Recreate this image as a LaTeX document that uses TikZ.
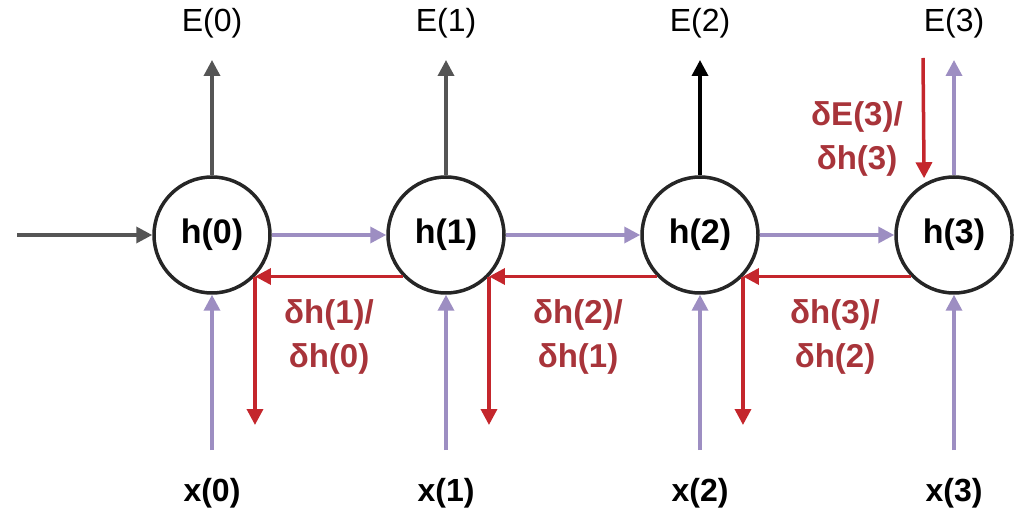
\documentclass[tikz,border=0pt]{standalone}
\usepackage{fontspec}
\setmainfont{Liberation Sans}
\usetikzlibrary{arrows.meta}
\definecolor{lilac}{HTML}{9D8EC2}
\definecolor{gradred}{HTML}{C4262C}
\definecolor{labelred}{HTML}{A8343A}
\definecolor{wiregray}{HTML}{555555}
\begin{document}
\begin{tikzpicture}[x=1pt,y=-1pt,
  state/.style={circle,draw=black!85,line width=3.5pt,minimum size=116pt,
    inner sep=0pt,font=\fontsize{34}{40}\selectfont\bfseries},
  wire/.style={line width=3.5pt,-{Triangle[length=16pt,width=16pt]}},
  fwd/.style={wire,draw=lilac},
  back/.style={wire,draw=gradred},
  outlbl/.style={font=\fontsize{32}{38}\selectfont},
  inlbl/.style={font=\fontsize{32}{38}\selectfont\bfseries},
  gradlbl/.style={text=labelred,align=center,
    font=\fontsize{33}{44}\selectfont\bfseries}]
  \useasboundingbox (0,0) rectangle (1017,510);

  % hidden states
  \node[state] (h0) at (212,235) {h(0)};
  \node[state] (h1) at (446,235) {h(1)};
  \node[state] (h2) at (700,235) {h(2)};
  \node[state] (h3) at (954,235) {h(3)};

  % outputs
  \node[outlbl] (e0) at (212,23) {E(0)};
  \node[outlbl] (e1) at (446,23) {E(1)};
  \node[outlbl] (e2) at (700,23) {E(2)};
  \node[outlbl] (e3) at (954,23) {E(3)};
  \coordinate (te0) at (212,60);
  \coordinate (te1) at (446,60);
  \coordinate (te2) at (700,60);
  \coordinate (te3) at (954,60);

  % inputs
  \node[inlbl] (x0) at (212,493) {x(0)};
  \node[inlbl] (x1) at (446,493) {x(1)};
  \node[inlbl] (x2) at (700,493) {x(2)};
  \node[inlbl] (x3) at (954,493) {x(3)};
  \coordinate (sx0) at (212,450);
  \coordinate (sx1) at (446,450);
  \coordinate (sx2) at (700,450);
  \coordinate (sx3) at (954,450);

  % initial state feed
  \coordinate (start) at (17,235);
  \draw[wire,draw=wiregray] (start) -- (h0.west);

  % output arrows
  \draw[wire,draw=wiregray] (h0.north) -- (te0);
  \draw[wire,draw=wiregray] (h1.north) -- (te1);
  \draw[wire,draw=black] (h2.north) -- (te2);
  \draw[fwd] (h3.north) -- (te3);

  % input arrows
  \draw[fwd] (sx0) -- (h0.south);
  \draw[fwd] (sx1) -- (h1.south);
  \draw[fwd] (sx2) -- (h2.south);
  \draw[fwd] (sx3) -- (h3.south);

  % forward recurrence
  \draw[fwd] (h0.east) -- (h1.west);
  \draw[fwd] (h1.east) -- (h2.west);
  \draw[fwd] (h2.east) -- (h3.west);

  % backpropagated gradients
  \coordinate (ge3) at (923,58);
  \draw[back,shorten >=5pt] (ge3) -- (h3.120);
  \draw[back] (h1.224) -- (h0.316);
  \draw[back] (h2.224) -- (h1.316);
  \draw[back] (h3.224) -- (h2.316);
  \coordinate (floor) at (0,425);
  \draw[back] (h0.316) -- (h0.316 |- floor);
  \draw[back] (h1.316) -- (h1.316 |- floor);
  \draw[back] (h2.316) -- (h2.316 |- floor);

  % gradient labels
  \node[gradlbl] (g10) at (329,337) {δh(1)/\\δh(0)};
  \node[gradlbl] (g21) at (578,337) {δh(2)/\\δh(1)};
  \node[gradlbl] (g32) at (835,337) {δh(3)/\\δh(2)};
  \node[gradlbl] (g33) at (857,139) {δE(3)/\\δh(3)};
\end{tikzpicture}
\end{document}
